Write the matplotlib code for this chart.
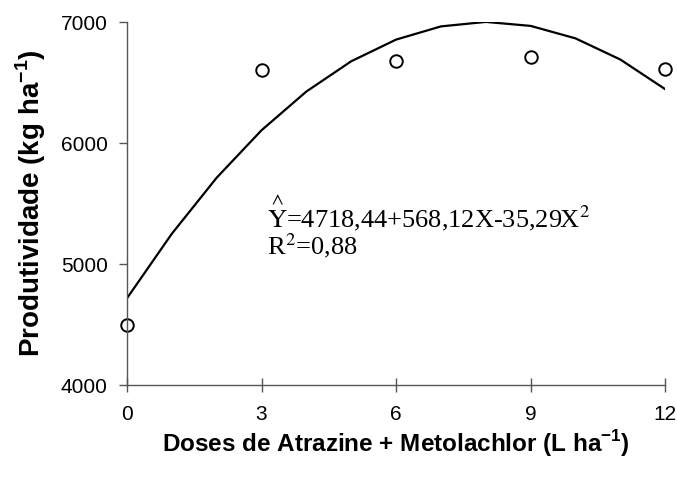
import matplotlib
matplotlib.use("Agg")
import matplotlib.pyplot as plt

# observed means
doses = [0, 3, 6, 9, 12]
prod = [4500, 6600, 6680, 6710, 6610]

# fitted curve
fit_x = [0, 1, 2, 3, 4, 5, 6, 7, 8, 9, 10, 11, 12]
fit_y = [4718, 5251, 5714, 6106, 6426, 6676, 6855, 6964, 7001, 6968, 6865, 6690, 6445]

plt.rcParams['font.family'] = ['Liberation Sans', 'DejaVu Sans']
plt.rcParams['mathtext.fontset'] = 'custom'
plt.rcParams['mathtext.rm'] = 'Liberation Sans'
plt.rcParams['mathtext.bf'] = 'Liberation Sans:bold'

fig = plt.figure(figsize=(6.77, 4.79), dpi=100)
ax = fig.add_axes([0.1876, 0.196, 0.795, 0.758])

ax.plot(fit_x, fit_y, color='black', lw=1.6)
ax.plot(doses, prod, 'o', mfc='white', mec='black', ms=9, mew=1.4, clip_on=False)

ax.set_xlim(0, 12)
ax.set_ylim(4000, 7000)
ax.set_xticks([0, 3, 6, 9, 12])
ax.set_yticks([4000, 5000, 6000, 7000])

for s in ['top', 'right']:
    ax.spines[s].set_visible(False)
for s in ['left', 'bottom']:
    ax.spines[s].set_color('#555555')
    ax.spines[s].set_linewidth(1.0)

ax.tick_params(axis='x', direction='inout', length=10, width=1, color='#555555',
               labelsize=15, pad=9)
ax.tick_params(axis='y', direction='out', length=6, width=1, color='#555555',
               labelsize=15, pad=8)

ax.set_xlabel('Doses de Atrazine + Metolachlor (L ha$^{\\mathbf{-1}}$)',
              fontsize=17.5, fontweight='bold', labelpad=3)
ax.set_ylabel('Produtividade (kg ha$^{\\mathbf{-1}}$)',
              fontsize=20, fontweight='bold', labelpad=9)

# regression equation (hat over Y kept in the same text)
ax.text(3.12, 5306, '$\\overset{\\wedge}{\\mathrm{Y}}$=4718,44+568,12X-35,29X$^2$',
        fontsize=19, family='Liberation Serif', math_fontfamily='stix')
ax.text(3.12, 5080, 'R$^2$=0,88', fontsize=19,
        family='Liberation Serif', math_fontfamily='stix')

fig.savefig('out.png', dpi=100)
